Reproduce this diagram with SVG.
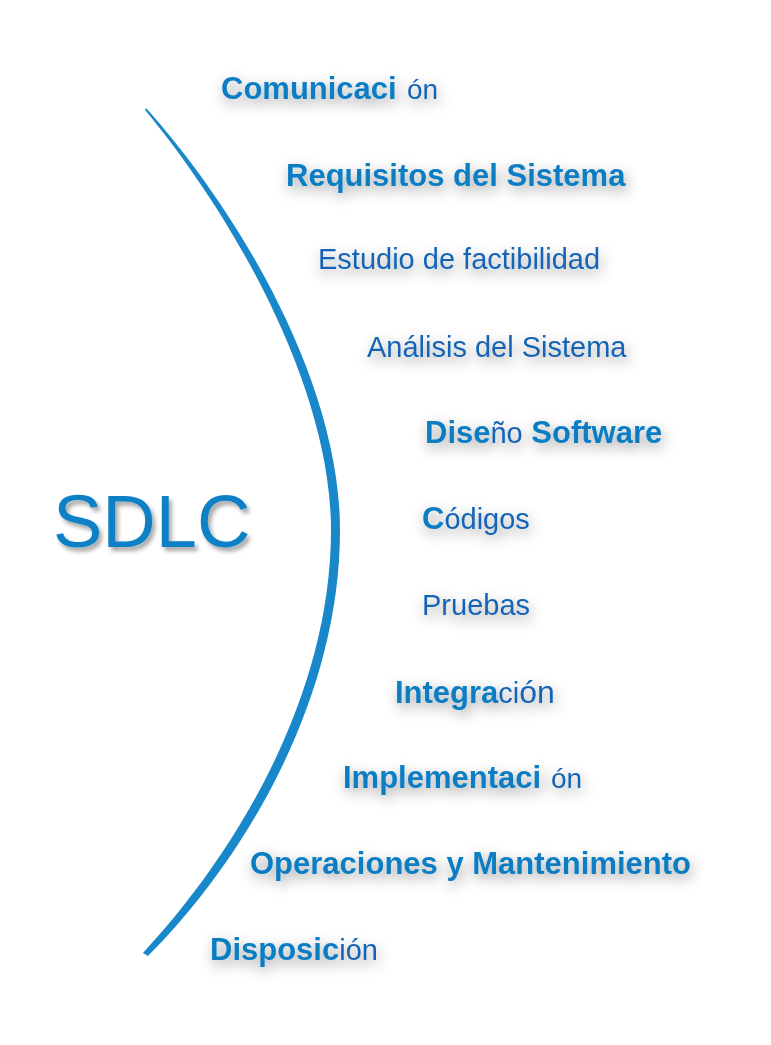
<svg xmlns="http://www.w3.org/2000/svg" width="771" height="1045" viewBox="0 0 771 1045">
<defs>
<filter id="soft" x="-20%" y="-100%" width="140%" height="300%">
<feGaussianBlur in="SourceAlpha" stdDeviation="7"/>
<feOffset dx="2" dy="5" result="b"/>
<feFlood flood-color="#000" flood-opacity="0.4"/>
<feComposite in2="b" operator="in"/>
<feMerge><feMergeNode/><feMergeNode in="SourceGraphic"/></feMerge>
</filter>
<filter id="hard" x="-10%" y="-20%" width="120%" height="140%">
<feGaussianBlur in="SourceAlpha" stdDeviation="2"/>
<feOffset dx="3" dy="4" result="b"/>
<feFlood flood-color="#000" flood-opacity="0.35"/>
<feComposite in2="b" operator="in"/>
<feMerge><feMergeNode/><feMergeNode in="SourceGraphic"/></feMerge>
</filter>
</defs>
<style>
text{font-family:"Liberation Sans",Arial,sans-serif;}
.b{font-weight:bold;font-size:31px;fill:#0B7DC3;}
.r{font-weight:normal;font-size:29px;fill:#1464B6;}
.step{filter:url(#soft);}
</style>
<rect width="771" height="1045" fill="#fff"/>
<g id="connectors">
<path id="arc" fill="#1888CA" d="M146,108 C234,206 340,378 340,530 C340,702 242,862 148,956 L143,953 C234,855 331,698 331,530 C331,384 230,212 145,110 Z"/>
</g>
<g id="title" filter="url(#hard)">
<text x="53" y="547" font-size="74" fill="#0C80C6">SDLC</text>
</g>
<g id="n1" class="step"><text class="b" x="221" y="99">Comunicaci</text><text class="r" x="407" y="99" style="font-size:28px">ón</text></g>
<g id="n2" class="step"><text class="b" x="286" y="186">Requisitos del Sistema</text></g>
<g id="n3" class="step"><text class="r" x="318" y="269">Estudio de factibilidad</text></g>
<g id="n4" class="step"><text class="r" x="367" y="357">Análisis del Sistema</text></g>
<g id="n5" class="step"><text x="425" y="443"><tspan class="b">Dise</tspan><tspan class="r">ño</tspan><tspan class="b"> Software</tspan></text></g>
<g id="n6" class="step"><text x="422" y="529"><tspan class="b">C</tspan><tspan class="r">ódigos</tspan></text></g>
<g id="n7" class="step"><text class="r" x="422" y="615">Pruebas</text></g>
<g id="n8" class="step"><text x="395" y="703"><tspan class="b">Integra</tspan><tspan class="r">ci</tspan><tspan class="r" style="font-size:32px">ón</tspan></text></g>
<g id="n9" class="step"><text class="b" x="343" y="788">Implementaci</text><text class="r" x="551" y="788" style="font-size:28px">ón</text></g>
<g id="n10" class="step"><text class="b" x="250" y="874">Operaciones y Mantenimiento</text></g>
<g id="n11" class="step"><text x="210" y="960"><tspan class="b">Disposic</tspan><tspan class="r">ión</tspan></text></g>
</svg>
